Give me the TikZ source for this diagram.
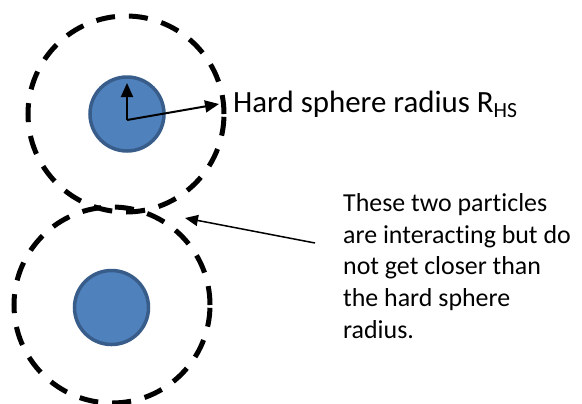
\documentclass[tikz,border=0pt]{standalone}
\usepackage{fontspec}
\setmainfont{Carlito}[Ligatures={NoCommon,NoContextual}]
\usetikzlibrary{arrows.meta}
\definecolor{particle}{HTML}{4F81BD}
\definecolor{particleedge}{HTML}{385D8A}
\begin{document}
\begin{tikzpicture}[x=1bp,y=-1bp,
  shell/.style={circle,draw=black,line width=5bp,dash pattern=on 19bp off 14bp,minimum size=#1,inner sep=0pt},
  core/.style={circle,fill=particle,draw=particleedge,line width=3.5bp,minimum size=74bp,inner sep=0pt},
  radius/.style={line width=2bp,-{Triangle[length=14bp,width=12bp]}},
  pointer/.style={line width=1.5bp,-{Triangle[length=13bp,width=11bp]}},
  label/.style={inner sep=0pt,anchor=base west,align=left}]
\useasboundingbox (0,0) rectangle (582,403);
% outer interaction shells
\node[shell=196bp] (shellA) at (126,114) {};
\node[shell=196bp] (shellB) at (112,305) {};
% hard-sphere cores
\node[core] (coreA) at (127,114) {};
\node[core] (coreB) at (111.5,307.5) {};
% radius arrows from the upper core centre
\coordinate (ctrA) at (127,120);
\coordinate (topA) at (127,83);
\coordinate (rimA) at (219,104);
\draw[radius] (ctrA) -- (topA);
\draw[radius] (ctrA) -- (rimA);
\node[label,font=\fontsize{31}{36}\selectfont] (rhs) at (233,112) {Hard sphere radius R\textsubscript{HS}};
% explanation with pointer to the lower shell
\node[label,font=\fontsize{26}{32}\selectfont,anchor=north west] (note) at (343,193)
  {These two particles\\are interacting but do\\not get closer than\\the hard sphere\\radius.};
\coordinate (noteTail) at (315,243);
\coordinate (shellHit) at (185,218);
\draw[pointer] (noteTail) -- (shellHit);
\end{tikzpicture}
\end{document}
